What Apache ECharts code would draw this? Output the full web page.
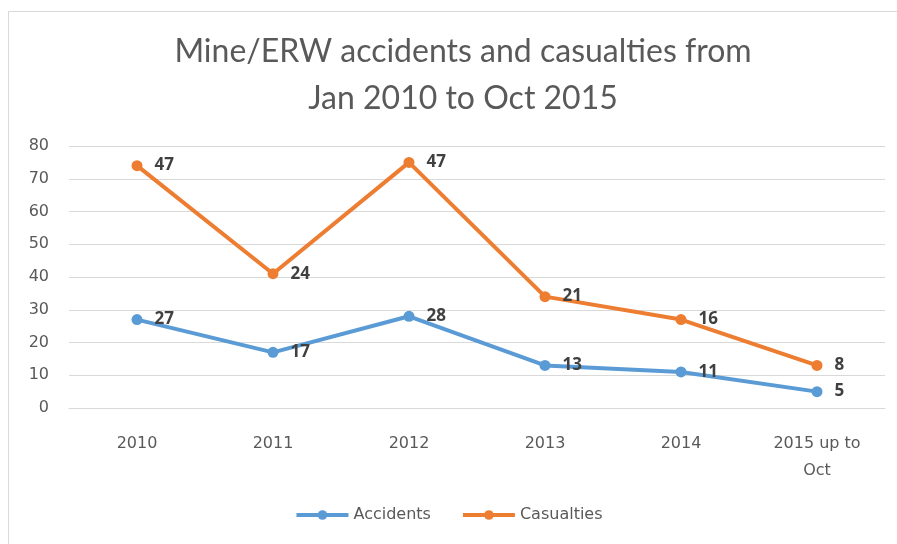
<!DOCTYPE html>
<html>
<head>
<meta charset="utf-8">
<script src="https://cdn.jsdelivr.net/npm/echarts@6/dist/echarts.min.js"></script>
<style>
  html, body { margin: 0; padding: 0; background: #fff; }
  #main { width: 897px; height: 544px; }
</style>
</head>
<body>
<div id="main"></div>
<script>
// data
var years = ['2010', '2011', '2012', '2013', '2014', '2015 up to\nOct'];
var accidents = [27, 17, 28, 13, 11, 5];
var casualties = [47, 24, 47, 21, 16, 8];
var yTicks = [0, 10, 20, 30, 40, 50, 60, 70, 80];

var myChart = echarts.init(document.getElementById('main'));

var labelStyle = {
  show: true,
  position: 'right',
  distance: 12,
  color: '#404040',
  fontWeight: 'bold',
  fontSize: 17,
  fontFamily: 'Open Sans, DejaVu Sans, sans-serif'
};

var option = {
  animation: false,
  backgroundColor: '#fff',
  graphic: [{
    type: 'rect',
    shape: { x: 8.5, y: 11.5, width: 1000, height: 600 },
    style: { fill: 'none', stroke: '#d9d9d9', lineWidth: 1 },
    silent: true
  }],
  title: {
    text: 'Mine/ERW accidents and casualties from\nJan 2010 to Oct 2015',
    left: 458,
    top: 23,
    textAlign: 'center',
    textStyle: {
      color: '#595959',
      fontSize: 32,
      fontWeight: 'normal',
      lineHeight: 47,
      fontFamily: 'Lato, sans-serif'
    }
  },
  legend: {
    bottom: 16,
    left: 'center',
    itemWidth: 52,
    itemHeight: 12,
    itemGap: 30,
    lineStyle: { width: 4 },
    textStyle: { color: '#595959', fontSize: 16, fontFamily: 'DejaVu Sans, sans-serif' },
    data: ['Accidents', 'Casualties']
  },
  grid: { left: 69, right: 12, top: 146, bottom: 136, containLabel: false },
  xAxis: {
    type: 'category',
    data: years,
    boundaryGap: true,
    axisLine: { show: true, lineStyle: { color: '#d9d9d9' } },
    axisTick: { show: false },
    axisLabel: {
      color: '#595959',
      fontSize: 16,
      margin: 22,
      lineHeight: 27,
      fontFamily: 'DejaVu Sans, sans-serif'
    }
  },
  yAxis: {
    type: 'value',
    min: yTicks[0],
    max: yTicks[yTicks.length - 1],
    interval: 10,
    axisLine: { show: false },
    axisTick: { show: false },
    splitLine: { lineStyle: { color: '#d9d9d9' } },
    axisLabel: { color: '#595959', fontSize: 16, margin: 20, fontFamily: 'DejaVu Sans, sans-serif' }
  },
  series: [
    {
      name: 'Accidents',
      type: 'line',
      stack: 'total',
      data: accidents,
      color: '#5B9BD5',
      symbol: 'circle',
      symbolSize: 11,
      lineStyle: { width: 4 },
      label: labelStyle
    },
    {
      name: 'Casualties',
      type: 'line',
      stack: 'total',
      data: casualties,
      color: '#ED7D31',
      symbol: 'circle',
      symbolSize: 11,
      lineStyle: { width: 4 },
      label: labelStyle
    }
  ]
};
myChart.setOption(option);
</script>
</body>
</html>
